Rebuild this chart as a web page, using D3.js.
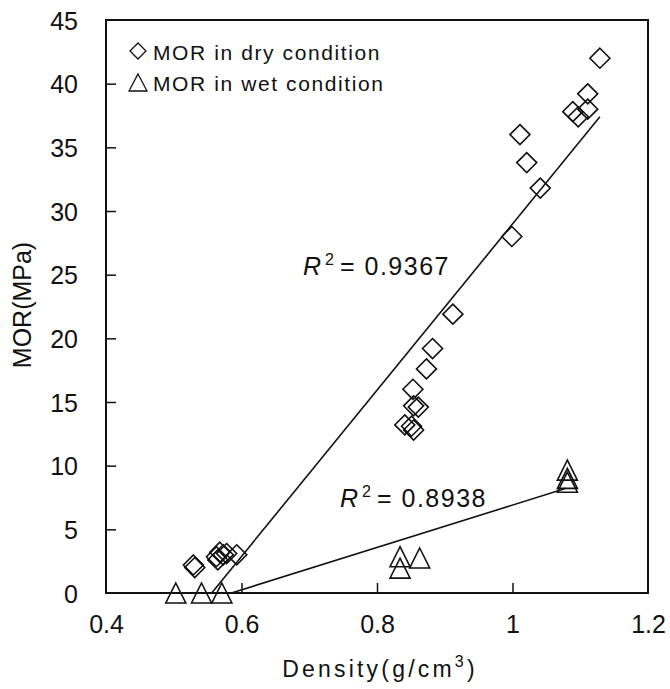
<!DOCTYPE html>
<meta charset="utf-8">
<style>
  body { margin: 0; background: #fff; }
  text { font-family: "Liberation Sans", Arial, sans-serif; fill: #111; }
</style>
<div id="chart"></div>
<script src="https://d3js.org/d3.v7.min.js"></script>
<script>
// MOR in dry condition (density, MPa)
var dryDensity = [1.129, 1.111, 1.089, 1.097, 1.111, 1.011, 1.021, 1.041, 0.999,
                  0.912, 0.882, 0.873, 0.853, 0.854, 0.861, 0.841, 0.851, 0.854,
                  0.529, 0.531, 0.568, 0.563, 0.573, 0.565, 0.578, 0.593];
var dryMOR     = [42.0, 39.2, 37.8, 37.4, 38.0, 36.0, 33.8, 31.8, 28.0,
                  21.9, 19.2, 17.6, 16.0, 14.7, 14.6, 13.2, 13.1, 12.8,
                  2.2, 2.0, 3.2, 2.85, 3.0, 2.6, 3.1, 3.0];
// MOR in wet condition
var wetDensity = [0.503, 0.541, 0.571, 0.834, 0.834, 0.863, 1.081, 1.081, 1.081];
var wetMOR     = [0, 0, 0, 2.85, 1.95, 2.75, 9.65, 9.0, 8.7];
// regression lines (end points)
var dryFitX = [0.556, 1.129], dryFitY = [0, 37.4];
var wetFitX = [0.585, 1.078], wetFitY = [0, 8.2];

var xTicks = [0.4, 0.6, 0.8, 1, 1.2];
var yTicks = [0, 5, 10, 15, 20, 25, 30, 35, 40, 45];

var width = 670, height = 689;
var plot = {left: 106, right: 648, top: 20, bottom: 593};

var svg = d3.select("#chart").append("svg")
  .attr("width", width)
  .attr("height", height);

var x = d3.scaleLinear().domain([0.4, 1.2]).range([plot.left, plot.right]);
var y = d3.scaleLinear().domain([0, 45]).range([plot.bottom, plot.top]);

// Y axis, ticks pointing inside
var yAxis = svg.append("g")
  .attr("transform", "translate(" + plot.left + ",0)")
  .call(d3.axisLeft(y).tickValues(yTicks).tickSizeInner(-10).tickSizeOuter(0).tickPadding(28));
yAxis.select(".domain").remove();
yAxis.selectAll("line").attr("stroke", "#111").attr("stroke-width", 1.5)
  .filter(function(d) { return d === 0 || d === 45; }).remove();
yAxis.selectAll("text").attr("font-size", 25).attr("font-family", null).attr("fill", "#111").attr("dy", "0.36em");

// X axis
var xAxis = svg.append("g")
  .attr("transform", "translate(0," + plot.bottom + ")")
  .call(d3.axisBottom(x).tickValues(xTicks).tickFormat(d3.format("~g")).tickSizeInner(-10).tickSizeOuter(0).tickPadding(30));
xAxis.select(".domain").remove();
xAxis.selectAll("line").attr("stroke", "#111").attr("stroke-width", 1.5)
  .filter(function(d) { return d === 0.4 || d === 1.2; }).remove();
xAxis.selectAll("text").attr("font-size", 25).attr("font-family", null).attr("fill", "#111").attr("dy", "0.4em");

// frame
svg.append("rect")
  .attr("x", plot.left).attr("y", plot.top)
  .attr("width", plot.right - plot.left).attr("height", plot.bottom - plot.top)
  .attr("fill", "none").attr("stroke", "#111").attr("stroke-width", 2);

// axis titles
svg.append("text")
  .attr("x", 380).attr("y", 677)
  .attr("text-anchor", "middle")
  .attr("font-size", 23)
  .attr("letter-spacing", 3.2)
  .html('Density(g/cm<tspan dy="-10" font-size="16">3</tspan><tspan dy="10">)</tspan>');

svg.append("text")
  .attr("transform", "translate(31,305) rotate(-90)")
  .attr("text-anchor", "middle")
  .attr("font-size", 25)
  .text("MOR(MPa)");

// regression lines
var line = d3.line().x(function(d) { return x(d[0]); }).y(function(d) { return y(d[1]); });
svg.append("path")
  .datum(d3.zip(dryFitX, dryFitY))
  .attr("d", line).attr("fill", "none").attr("stroke", "#111").attr("stroke-width", 1.6);
svg.append("path")
  .datum(d3.zip(wetFitX, wetFitY))
  .attr("d", line).attr("fill", "none").attr("stroke", "#111").attr("stroke-width", 1.6);

// markers
var diamond = "M0,-10L10,0L0,10L-10,0Z";
var triangle = "M0,-10L10,10L-10,10Z";

svg.append("g").selectAll("path")
  .data(d3.zip(dryDensity, dryMOR))
  .join("path")
  .attr("transform", function(d) { return "translate(" + x(d[0]) + "," + y(d[1]) + ")"; })
  .attr("d", diamond)
  .attr("fill", "none").attr("stroke", "#111").attr("stroke-width", 1.6);

svg.append("g").selectAll("path")
  .data(d3.zip(wetDensity, wetMOR))
  .join("path")
  .attr("transform", function(d) { return "translate(" + x(d[0]) + "," + y(d[1]) + ")"; })
  .attr("d", triangle)
  .attr("fill", "none").attr("stroke", "#111").attr("stroke-width", 1.6);

// R^2 labels
svg.append("text")
  .attr("x", 303).attr("y", 275)
  .attr("font-size", 25)
  .html('<tspan font-style="italic">R</tspan><tspan dy="-10" font-size="16" dx="4">2</tspan><tspan dy="10" dx="6" letter-spacing="1.5">= 0.9367</tspan>');
svg.append("text")
  .attr("x", 340).attr("y", 507)
  .attr("font-size", 25)
  .html('<tspan font-style="italic">R</tspan><tspan dy="-10" font-size="16" dx="4">2</tspan><tspan dy="10" dx="6" letter-spacing="1.5">= 0.8938</tspan>');

// legend
var legend = svg.append("g");
legend.append("path")
  .attr("transform", "translate(138,51)")
  .attr("d", "M0,-8L8,0L0,8L-8,0Z")
  .attr("fill", "none").attr("stroke", "#111").attr("stroke-width", 1.3);
legend.append("text")
  .attr("x", 153).attr("y", 60)
  .attr("font-size", 21).attr("letter-spacing", 1.6)
  .text("MOR in dry condition");
legend.append("path")
  .attr("transform", "translate(138,83)")
  .attr("d", "M0,-9L9,8L-9,8Z")
  .attr("fill", "none").attr("stroke", "#111").attr("stroke-width", 1.3);
legend.append("text")
  .attr("x", 153).attr("y", 91)
  .attr("font-size", 21).attr("letter-spacing", 1.6)
  .text("MOR in wet condition");
</script>
